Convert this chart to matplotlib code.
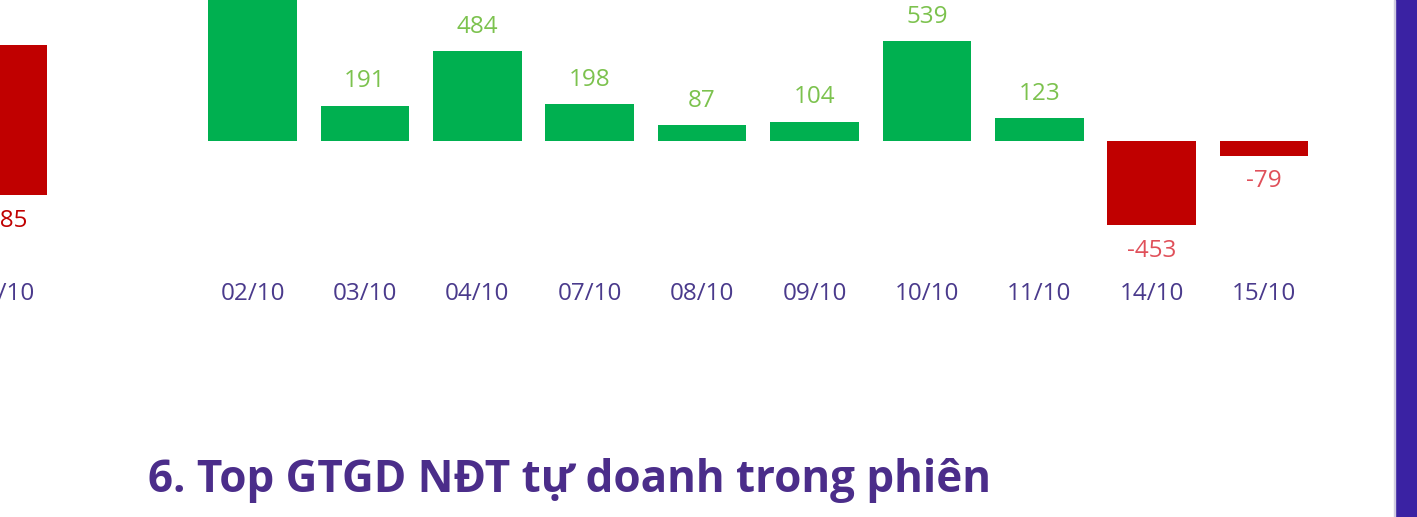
import matplotlib.pyplot as plt
from matplotlib.patches import Rectangle

plt.rcParams['font.family'] = ['Open Sans', 'DejaVu Sans']

# data
dates = ['02/10', '03/10', '04/10', '07/10', '08/10', '09/10', '10/10', '11/10', '14/10', '15/10']
values = [900, 191, 484, 198, 87, 104, 539, 123, -453, -79]
prev_date = ['15/10']
prev_value = [-785]

green = '#00B050'
red = '#C00000'
pos_lbl = '#7CC24E'
neg_lbl = '#E0505A'
tick_col = '#4A3A8C'
title_col = '#4B2D8A'
strip_col = '#3A22A3'

W, H = 1417, 517
fig = plt.figure(figsize=(W / 100, H / 100), dpi=100)

def px_axes(x0, x1, y0, y1):
    # pixel box (from top-left) -> axes
    return fig.add_axes([x0 / W, 1 - y1 / H, (x1 - x0) / W, (y1 - y0) / H])

pitch = 112.4
c0 = 252.5
base_y = 141
scale = 100 / 539.0  # px per unit

# main chart
ax = px_axes(0, 1395, 0, 270)
ax.set_xlim(-c0 / pitch, (1395 - c0) / pitch)
ax.set_ylim(-(270 - base_y) / scale, base_y / scale)
xs = list(range(len(values)))
cols = [green if v >= 0 else red for v in values]
ax.bar(xs, values, width=0.79, color=cols)
for x, v in zip(xs, values):
    off = 17.5 if v >= 0 else -18.5
    ax.annotate(str(v), (x, v), xytext=(0, off), textcoords='offset points',
                ha='center', va='center', fontsize=17.5,
                color=pos_lbl if v >= 0 else neg_lbl, annotation_clip=False)
ax.set_xticks(xs, dates)

# previous chart, cut off at left
ax0 = px_axes(2.75 - pitch, 2.75 + pitch, 0, 270)
s0 = 150 / 785.0
ax0.set_xlim(-1, 1)
ax0.set_ylim(-(270 - 45) / s0, 45 / s0)
ax0.bar([0], prev_value, width=0.79, color=red)
ax0.annotate(str(prev_value[0]), (0, prev_value[0]), xytext=(0, -18.5),
             textcoords='offset points', ha='center', va='center',
             fontsize=17.5, color=red)
ax0.set_xticks([0], prev_date)

for a in (ax, ax0):
    a.patch.set_alpha(0)
    for s in a.spines.values():
        s.set_visible(False)
    a.set_yticks([])
    a.tick_params(axis='x', length=0, pad=9.0, labelsize=17.5, labelcolor=tick_col)

# right strip
fig.patches.append(Rectangle((1395 / W, 0), 22 / W, 1, transform=fig.transFigure,
                             color=strip_col, zorder=5))
fig.patches.append(Rectangle((1393.5 / W, 0), 1.2 / W, 1, transform=fig.transFigure,
                             color='#D0CCE0', zorder=5))

fig.text(148 / W, (H - 492) / H, '6. Top GTGD NĐT tự doanh trong phiên',
         fontsize=31.7, fontweight='bold', color=title_col, va='baseline', ha='left')

fig.savefig('out.png', dpi=100)
